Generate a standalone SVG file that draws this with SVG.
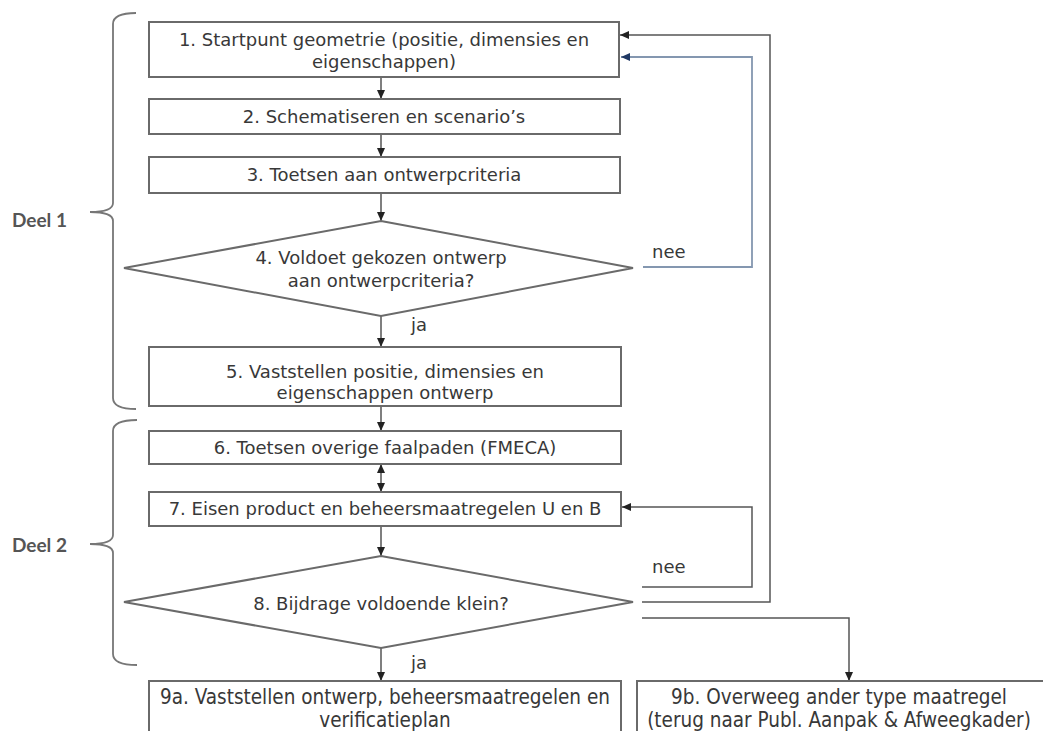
<svg xmlns="http://www.w3.org/2000/svg" width="1043" height="731" viewBox="0 0 1043 731">
<style>
.box{fill:#fff;stroke:#6a6a6a;stroke-width:2}
.t{font-family:"DejaVu Sans",Verdana,sans-serif;font-size:18px;fill:#383838;text-anchor:middle}
.tc{font-family:"DejaVu Sans Condensed","DejaVu Sans",sans-serif;font-size:20.5px;fill:#383838;text-anchor:middle}
.lbl{font-family:"DejaVu Sans",Verdana,sans-serif;font-size:18px;fill:#383838}
.deel{font-family:Lato,"Open Sans",sans-serif;font-size:19px;font-weight:bold;fill:#555}
.c{fill:none;stroke:#555;stroke-width:1.5}
.cb{fill:none;stroke:#8497b0;stroke-width:1.8}
.br{fill:none;stroke:#777;stroke-width:1.8}
</style>
<defs>
<marker id="ah" markerUnits="userSpaceOnUse" markerWidth="10" markerHeight="10" refX="9" refY="4" orient="auto">
<path d="M0,0 L9,4 L0,8 Z" fill="#222"/>
</marker>
<marker id="ahs" markerUnits="userSpaceOnUse" markerWidth="10" markerHeight="10" refX="0" refY="4" orient="auto">
<path d="M9,0 L0,4 L9,8 Z" fill="#222"/>
</marker>
<marker id="ahb" markerUnits="userSpaceOnUse" markerWidth="10" markerHeight="10" refX="9" refY="4" orient="auto">
<path d="M0,0 L9,4 L0,8 Z" fill="#1f3864"/>
</marker>
</defs>
<rect width="1043" height="731" fill="#fff"/>

<g id="braces">
<path class="br" d="M136,13 Q113,13 113,24 L113,203 Q113,212 90,212 Q113,212 113,221 L113,398 Q113,409 136,409"/>
<path class="br" d="M137,420 Q113,420 113,431 L113,535 Q113,544 90,544 Q113,544 113,553 L113,654 Q113,665 137,665"/>
<text id="deel1" class="deel" x="12" y="227">Deel 1</text>
<text id="deel2" class="deel" x="12" y="552">Deel 2</text>
</g>

<g id="connectors">
<line class="c" x1="381" y1="77" x2="381" y2="99" marker-end="url(#ah)"/>
<line class="c" x1="381" y1="134" x2="381" y2="157" marker-end="url(#ah)"/>
<line class="c" x1="381" y1="193" x2="381" y2="221" marker-end="url(#ah)"/>
<line class="c" x1="381" y1="316" x2="381" y2="347" marker-end="url(#ah)"/>
<line class="c" x1="381" y1="406" x2="381" y2="431" marker-end="url(#ah)"/>
<line class="c" x1="381" y1="464" x2="381" y2="492" marker-start="url(#ahs)" marker-end="url(#ah)"/>
<line class="c" x1="381" y1="526" x2="381" y2="556" marker-end="url(#ah)"/>
<line class="c" x1="381" y1="648" x2="381" y2="681" marker-end="url(#ah)"/>
<polyline class="cb" points="643,267 752,267 752,57 621,57" marker-end="url(#ahb)"/>
<polyline class="c" points="642,587 752,587 752,507 622,507" marker-end="url(#ah)"/>
<polyline class="c" points="642,602 770,602 770,35 620,35" marker-end="url(#ah)"/>
<polyline class="c" points="642,618 849,618 849,681" marker-end="url(#ah)"/>
<text class="lbl" x="652" y="258">nee</text>
<text class="lbl" x="652" y="573">nee</text>
<text class="lbl" x="411" y="331">ja</text>
<text class="lbl" x="411" y="669">ja</text>
</g>

<g id="n1">
<rect class="box" x="149" y="22" width="470" height="55"/>
<text class="t" x="384" y="46">1. Startpunt geometrie (positie, dimensies en</text>
<text class="t" x="384" y="68">eigenschappen)</text>
</g>
<g id="n2">
<rect class="box" x="149" y="99" width="471" height="35"/>
<text class="t" x="384" y="123">2. Schematiseren en scenario’s</text>
</g>
<g id="n3">
<rect class="box" x="149" y="157" width="471" height="36"/>
<text class="t" x="384" y="181">3. Toetsen aan ontwerpcriteria</text>
</g>
<g id="n4">
<polygon class="box" points="381,221 633,268 381,316 124,268"/>
<text class="t" x="381" y="264">4. Voldoet gekozen ontwerp</text>
<text class="t" x="381" y="287">aan ontwerpcriteria?</text>
</g>
<g id="n5">
<rect class="box" x="149" y="347" width="472" height="59"/>
<text class="t" x="385" y="378">5. Vaststellen positie, dimensies en</text>
<text class="t" x="385" y="399">eigenschappen ontwerp</text>
</g>
<g id="n6">
<rect class="box" x="149" y="431" width="472" height="33"/>
<text class="t" x="385" y="454">6. Toetsen overige faalpaden (FMECA)</text>
</g>
<g id="n7">
<rect class="box" x="149" y="492" width="472" height="34"/>
<text class="t" x="385" y="515">7. Eisen product en beheersmaatregelen U en B</text>
</g>
<g id="n8">
<polygon class="box" points="381,556 633,602 381,648 124,602"/>
<text class="t" x="381" y="610">8. Bijdrage voldoende klein?</text>
</g>
<g id="n9a">
<rect class="box" x="149" y="681" width="472" height="60"/>
<text class="tc" x="385" y="704">9a. Vaststellen ontwerp, beheersmaatregelen en</text>
<text class="tc" x="385" y="727">verificatieplan</text>
</g>
<g id="n9b">
<rect class="box" x="637" y="681" width="420" height="60"/>
<text class="tc" x="839" y="704">9b. Overweeg ander type maatregel</text>
<text class="tc" x="839" y="727">(terug naar Publ. Aanpak &amp; Afweegkader)</text>
</g>
</svg>
